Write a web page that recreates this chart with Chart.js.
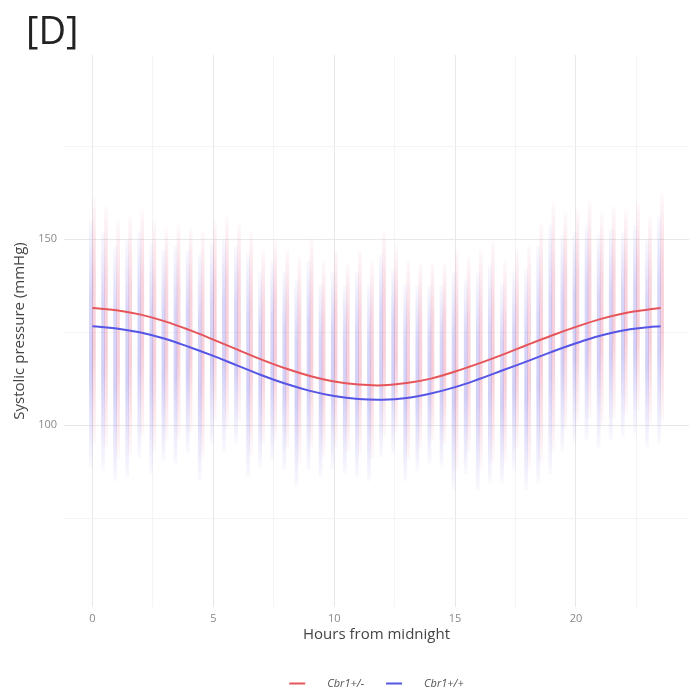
<!DOCTYPE html>
<html>
<head>
<meta charset="utf-8">
<script src="https://cdn.jsdelivr.net/npm/chart.js@4/dist/chart.umd.min.js"></script>
<style>
  body { margin: 0; background: #fff; }
  #wrap { position: relative; width: 689px; height: 699px; }
  #panel { position: absolute; left: 26px; top: 3px; font: 38px "Open Sans", sans-serif; color: #222; }
  canvas { position: absolute; left: 0; top: 0; }
</style>
</head>
<body>
<div id="wrap">
  <canvas id="bpChart" width="689" height="699"></canvas>
  <div id="panel">[D]</div>
</div>
<script>
// Half-hour columns of raw readings (range of the dots per column)
const hours = [0, 0.5, 1, 1.5, 2, 2.5, 3, 3.5, 4, 4.5, 5, 5.5, 6, 6.5, 7, 7.5, 8, 8.5, 9, 9.5,
  10, 10.5, 11, 11.5, 12, 12.5, 13, 13.5, 14, 14.5, 15, 15.5, 16, 16.5, 17, 17.5, 18, 18.5, 19, 19.5,
  20, 20.5, 21, 21.5, 22, 22.5, 23, 23.5];

const hetHigh = [161, 158.6, 154.6, 156, 157.8, 155, 153, 154, 153, 152, 155, 156, 154, 152, 147, 150, 147, 145, 150, 144,
  147, 143.5, 147, 144, 152, 148, 144, 143.5, 143.5, 143.5, 147, 145, 147, 149, 144, 147, 148, 154, 159.7, 157,
  157.8, 159.7, 157, 158.6, 157.8, 159.7, 156, 162];
const hetLow = [95, 94, 91, 92, 97, 93, 96, 96, 98, 91, 101, 99, 101, 92, 95, 96, 94, 90, 94, 92,
  94, 93, 92, 91, 97, 98, 91, 94, 96, 95, 88, 93, 88, 90, 90, 94, 88, 90, 93, 99,
  101, 102, 100, 102, 103, 104, 100, 101];

const wtHigh = [155, 152, 148, 150, 152, 149, 147, 148, 147, 146, 149, 150, 148, 146, 141, 144, 141, 139, 144, 138,
  141, 137.5, 141, 138, 146, 142, 138, 137.5, 137.5, 137.5, 141, 139, 141, 143, 138, 141, 142, 148, 153.7, 151,
  151.8, 153.7, 151, 152.6, 151.8, 153.7, 150, 156];
const wtLow = [88.7, 88, 85, 86, 91.4, 87, 90.6, 89.8, 92.5, 85, 95, 93, 95, 86, 88.7, 90.6, 88, 83.6, 88, 86,
  88, 87, 86, 85, 91.4, 92.5, 85, 88, 89.8, 88.7, 82.5, 87, 82.5, 84.4, 84.4, 88, 82.5, 84.4, 87, 93,
  95, 96, 94, 96, 97, 98, 94, 95];

// Fitted cosinor curves
const fitHours = [0, 1, 2, 3, 4, 5, 6, 7, 8, 9, 10, 11, 12, 13, 14, 15, 16, 17, 18, 19, 20, 21, 22, 23, 23.5];
const hetFit = [131.5, 130.9, 129.7, 127.9, 125.6, 123.0, 120.3, 117.6, 115.2, 113.2, 111.7, 110.9, 110.7,
  111.3, 112.5, 114.4, 116.6, 119.0, 121.6, 124.1, 126.4, 128.5, 130.1, 131.1, 131.5];
const wtFit = [126.6, 126.0, 124.9, 123.2, 121.0, 118.6, 116.0, 113.4, 111.1, 109.2, 107.8, 107.0, 106.8,
  107.3, 108.5, 110.2, 112.4, 114.8, 117.2, 119.7, 122.0, 124.0, 125.5, 126.3, 126.6];

const seriesNames = ['Cbr1+/-', 'Cbr1+/+'];
const yLabelTicks = [100, 150];
const xLabelTicks = [0, 5, 10, 15, 20];

const RED = 'rgb(230, 85, 90)';
const BLUE = 'rgb(85, 85, 230)';

// vertical fade so each column looks denser near its middle
function columnFill(rgb) {
    return function(context) {
        const chart = context.chart;
        const raw = context.raw;
        const flat = 'rgba(' + rgb + ',0.15)';
        if (!chart.chartArea || !raw || !Array.isArray(raw.y) || !chart.scales.y) return flat;
        const yTop = chart.scales.y.getPixelForValue(raw.y[1]);
        const yBot = chart.scales.y.getPixelForValue(raw.y[0]);
        if (!isFinite(yTop) || !isFinite(yBot) || yTop === yBot) return flat;
        const g = chart.ctx.createLinearGradient(0, yTop, 0, yBot);
        g.addColorStop(0, 'rgba(' + rgb + ',0.03)');
        g.addColorStop(0.3, 'rgba(' + rgb + ',0.22)');
        g.addColorStop(0.6, 'rgba(' + rgb + ',0.26)');
        g.addColorStop(1, 'rgba(' + rgb + ',0.03)');
        return g;
    };
}

function gridColor(labelled) {
    return function(c) {
        const v = c.tick ? c.tick.value : null;
        return labelled.includes(v) ? '#e8e8e8' : '#f4f4f4';
    };
}

function toColumns(lows, highs) {
    return hours.map((h, i) => ({ x: h, y: [lows[i], highs[i]] }));
}

function toPoints(xs, ys) {
    return xs.map((h, i) => ({ x: h, y: ys[i] }));
}

// only the two fitted curves go in the legend, with a wider key gap like ggplot
function legendItems(chart) {
    return Chart.defaults.plugins.legend.labels.generateLabels(chart)
        .filter(item => item.datasetIndex >= 2)
        .map(item => Object.assign(item, { text: '\u2002\u2002\u2002' + item.text }));
}

const ctx = document.getElementById('bpChart');

new Chart(ctx, {
    data: {
        datasets: [
            {
                type: 'bar',
                label: 'het points',
                data: toColumns(hetLow, hetHigh),
                backgroundColor: columnFill('225, 70, 110'),
                barThickness: 3,
                order: 3
            },
            {
                type: 'bar',
                label: 'wt points',
                data: toColumns(wtLow, wtHigh),
                backgroundColor: columnFill('80, 70, 225'),
                barThickness: 3,
                order: 2
            },
            {
                type: 'line',
                label: seriesNames[0],
                data: toPoints(fitHours, hetFit),
                borderColor: RED,
                backgroundColor: RED,
                borderWidth: 2,
                pointRadius: 0,
                pointStyle: 'line',
                tension: 0.4,
                order: 1
            },
            {
                type: 'line',
                label: seriesNames[1],
                data: toPoints(fitHours, wtFit),
                borderColor: BLUE,
                backgroundColor: BLUE,
                borderWidth: 2,
                pointRadius: 0,
                pointStyle: 'line',
                tension: 0.4,
                order: 0
            }
        ]
    },
    options: {
        responsive: false,
        animation: false,
        layout: {
            padding: { top: 55, left: 0, right: 0, bottom: 0 }
        },
        plugins: {
            legend: {
                position: 'bottom',
                fullSize: false,
                labels: {
                    generateLabels: legendItems,
                    sort: (a, b) => a.datasetIndex - b.datasetIndex,
                    usePointStyle: true,
                    pointStyleWidth: 16,
                    boxHeight: 8,
                    padding: 22,
                    color: '#555',
                    font: { family: 'Open Sans', size: 11, style: 'italic' }
                }
            },
            tooltip: { enabled: false }
        },
        scales: {
            x: {
                type: 'linear',
                min: -1.175,
                max: 24.675,
                offset: false,
                border: { display: false },
                grid: {
                    offset: false,
                    drawTicks: false,
                    color: gridColor(xLabelTicks)
                },
                ticks: {
                    stepSize: 2.5,
                    includeBounds: false,
                    autoSkip: false,
                    maxRotation: 0,
                    padding: 5,
                    color: '#888',
                    font: { family: 'Open Sans', size: 11 },
                    callback: v => xLabelTicks.includes(v) ? String(v) : ''
                },
                title: {
                    display: true,
                    text: 'Hours from midnight',
                    color: '#444',
                    font: { family: 'Open Sans', size: 15 },
                    padding: { top: 0, bottom: 12 }
                },
                afterFit: scale => { scale.height = 49; }
            },
            y: {
                min: 51.1,
                max: 199.5,
                border: { display: false },
                grid: {
                    drawTicks: false,
                    color: gridColor(yLabelTicks)
                },
                ticks: {
                    stepSize: 25,
                    includeBounds: false,
                    padding: 7,
                    color: '#888',
                    font: { family: 'Open Sans', size: 11 },
                    callback: v => yLabelTicks.includes(v) ? String(v) : ''
                },
                title: {
                    display: true,
                    text: 'Systolic pressure (mmHg)',
                    color: '#444',
                    font: { family: 'Open Sans', size: 15 },
                    padding: { top: 11, bottom: 0 }
                },
                afterFit: scale => { scale.width = 64; }
            }
        }
    }
});
</script>
</body>
</html>
